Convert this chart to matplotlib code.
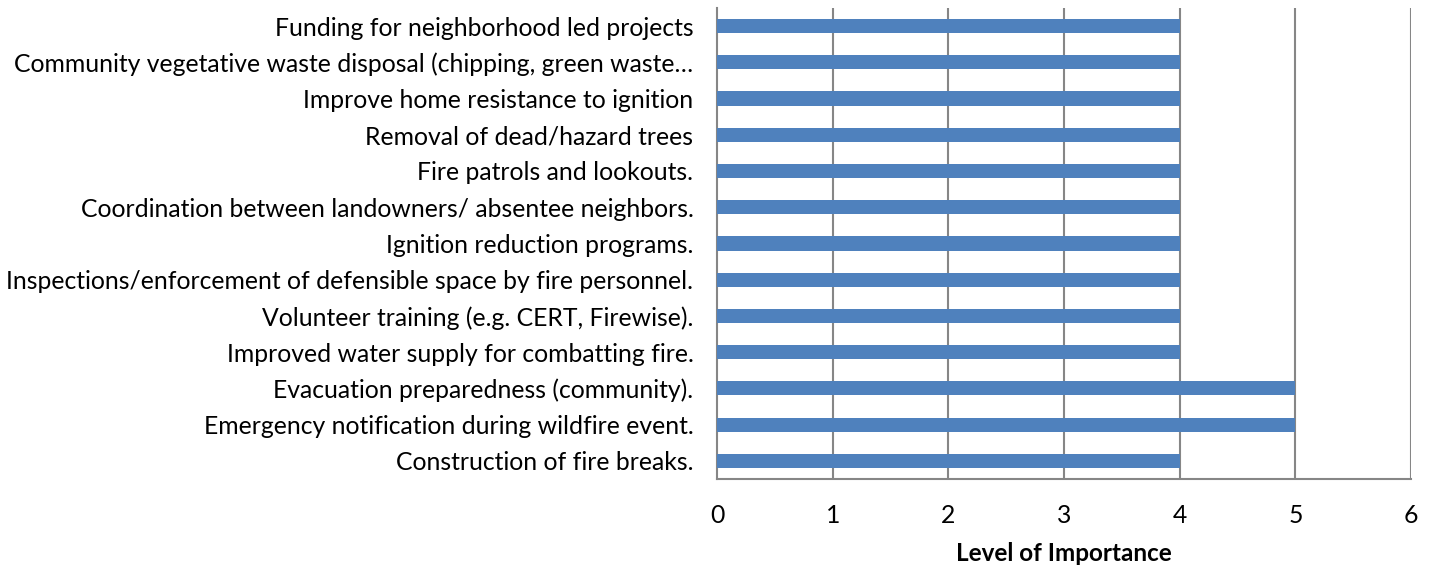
import matplotlib.pyplot as plt

# survey items, bottom to top
items = [
    "Construction of fire breaks.",
    "Emergency notification during wildfire event.",
    "Evacuation preparedness (community).",
    "Improved water supply for combatting fire.",
    "Volunteer training (e.g. CERT, Firewise).",
    "Inspections/enforcement of defensible space by fire personnel.",
    "Ignition reduction programs.",
    "Coordination between landowners/ absentee neighbors.",
    "Fire patrols and lookouts.",
    "Removal of dead/hazard trees",
    "Improve home resistance to ignition",
    "Community vegetative waste disposal (chipping, green waste\u2026",
    "Funding for neighborhood led projects",
]
importance = [4, 5, 5, 4, 4, 4, 4, 4, 4, 4, 4, 4, 4]
xticks = [0, 1, 2, 3, 4, 5, 6]

plt.rcParams['font.family'] = ['Lato', 'DejaVu Sans']

fig = plt.figure(figsize=(14.37, 5.66), dpi=100)
ax = fig.add_axes([0.499, 0.1537, 0.483, 0.8323])

grid_col = '#868686'
ax.barh(range(len(items)), importance, height=0.39, color='#4F81BD', zorder=3)

ax.set_xlim(0, 6)
ax.set_ylim(-0.5, len(items) - 0.5)
ax.set_xticks(xticks)
ax.set_yticks(range(len(items)))
ax.set_yticklabels(items, fontsize=17.8)
ax.tick_params(axis='x', labelsize=17.8, length=0, pad=18)
ax.tick_params(axis='y', length=0, pad=17)

for t in xticks[1:]:
    ax.axvline(t, color=grid_col, linewidth=1.5, zorder=1)

for side in ['top', 'right']:
    ax.spines[side].set_visible(False)
ax.spines['left'].set_color(grid_col)
ax.spines['bottom'].set_color(grid_col)
ax.spines['left'].set_linewidth(1.5)
ax.spines['bottom'].set_linewidth(1.5)

ax.set_xlabel('Level of Importance', fontsize=17.5, fontweight='bold', labelpad=10.5)

fig.savefig('out.png', dpi=100)
